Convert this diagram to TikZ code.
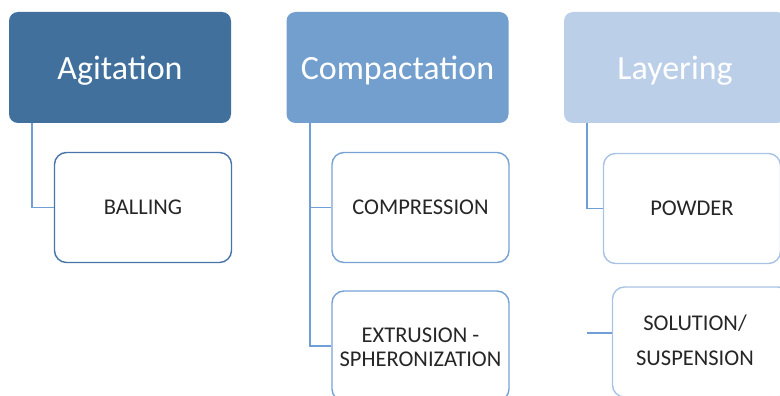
\documentclass[tikz,border=0pt]{standalone}
\usepackage{fontspec}
\setmainfont{Carlito}
\definecolor{hA}{RGB}{65,112,156}
\definecolor{hB}{RGB}{115,159,206}
\definecolor{hC}{RGB}{188,207,233}
\definecolor{oA}{RGB}{72,118,170}
\definecolor{oB}{RGB}{120,162,212}
\definecolor{oC}{RGB}{168,195,230}
\definecolor{conn}{RGB}{112,158,214}
\newcommand{\hdtext}[1]{\raisebox{-3pt}[\height][\depth]{#1}}
\tikzset{
  head/.style={draw=none, fill=#1, rounded corners=9pt, minimum width=222pt, minimum height=111pt,
    text=white, font=\fontsize{34}{38}\selectfont, inner sep=0pt},
  child/.style={draw=#1, line width=1.4pt, fill=white, rounded corners=12pt, minimum width=177pt,
    minimum height=110pt, text=black!85, font=\fontsize{22.5}{24}\selectfont, align=center, inner sep=0pt},
  link/.style={draw=conn, line width=1.4pt}
}
\begin{document}
\begin{tikzpicture}[x=1pt,y=-1pt]
\useasboundingbox (0,0) rectangle (780,396);
\clip (0,0) rectangle (780,396);
\fill[white] (0,0) rectangle (780,396);
% headers
\node[head=hA] (agi) at (120,67.5) {\hdtext{Agitation}};
\node[head=hB] (com) at (397.5,67.5) {\hdtext{Compactation}};
\node[head=hC] (lay) at (675,67.5) {\hdtext{Layering}};
% children
\node[child=oA] (bal) at (143,207.5) {BALLING};
\node[child=oB] (cmp) at (420.5,207.5) {COMPRESSION};
\node[child=oB] (ext) at (420.5,346) {};
\node[text=black!85, font=\fontsize{22.5}{24}\selectfont, align=center] (extt) at (420.5,347) {EXTRUSION -\\SPHERONIZATION};
\node[child=oC] (pow) at (692,208.5) {POWDER};
\node[child=oC] (sol) at (701,342) {};
\node[text=black!85, font=\fontsize{22.5}{35}\selectfont, align=center] (solt) at (695,340) {SOLUTION/\\SUSPENSION};
% connectors
\coordinate (a0) at (32,123);
\coordinate (b0) at (310,123);
\coordinate (c0) at (587,123);
\coordinate (c1) at (587,333);
\coordinate (sw) at (612,333);
\draw[link] (a0) |- (bal.west);
\draw[link] (b0) |- (cmp.west);
\draw[link] (b0) |- (ext.west);
\draw[link] (c0) |- (pow.west);
\draw[link] (c1) -- (sw);
\end{tikzpicture}
\end{document}
